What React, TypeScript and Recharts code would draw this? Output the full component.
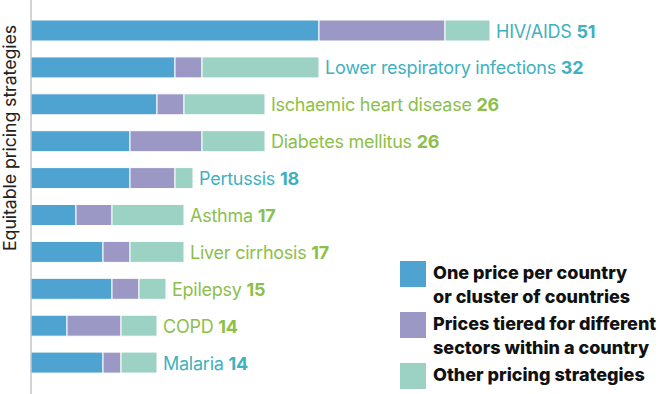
import { BarChart, Bar, XAxis, YAxis, LabelList, Label } from 'recharts';

const diseases = [
  'HIV/AIDS',
  'Lower respiratory infections',
  'Ischaemic heart disease',
  'Diabetes mellitus',
  'Pertussis',
  'Asthma',
  'Liver cirrhosis',
  'Epilepsy',
  'COPD',
  'Malaria',
];
const onePrice = [32, 16, 14, 11, 11, 5, 8, 9, 4, 8];
const tiered = [14, 3, 3, 8, 5, 4, 3, 3, 6, 2];
const other = [5, 13, 9, 7, 2, 8, 6, 3, 4, 4];
const totals = [51, 32, 26, 26, 18, 17, 17, 15, 14, 14];
const labelTone = ['teal', 'teal', 'green', 'green', 'teal', 'green', 'green', 'green', 'green', 'teal'];

const legendLines = [
  ['One price per country', 'or cluster of countries'],
  ['Prices tiered for different', 'sectors within a country'],
  ['Other pricing strategies'],
];

const COLORS = {
  onePrice: '#4fa3d0',
  tiered: '#9b98c6',
  other: '#9bd2c3',
  teal: '#3fb1bf',
  green: '#8cc04b',
  axis: '#a8a8a8',
};

const data = diseases.map((name, i) => ({
  name,
  onePrice: onePrice[i],
  tiered: tiered[i],
  other: other[i],
}));

const FONT = 'Inter, "Noto Sans", sans-serif';

function BarLabel(props: any) {
  const { x, y, width, height, value } = props;
  const i = diseases.indexOf(value);
  const color = labelTone[i] === 'teal' ? COLORS.teal : COLORS.green;
  return (
    <text
      x={Number(x) + Number(width) + 6}
      y={Number(y) + Number(height) / 2}
      dominantBaseline="central"
      fontFamily={FONT}
      fontSize={18}
      letterSpacing={-0.25}
      fill={color}
    >
      <tspan>{value} </tspan>
      <tspan fontWeight={700}>{totals[i]}</tspan>
    </text>
  );
}

// rotated title on the left, next to the axis line
function AxisTitle() {
  return (
    <text
      x={16}
      y={138}
      transform="rotate(-90, 16, 138)"
      textAnchor="middle"
      fontFamily={FONT}
      fontSize={17.8}
      letterSpacing={-0.1}
      fill="#222"
    >
      Equitable pricing strategies
    </text>
  );
}

function LegendBox() {
  const swatches = [COLORS.onePrice, COLORS.tiered, COLORS.other];
  return (
    <div style={{ position: 'absolute', left: 400, top: 261, fontFamily: FONT }}>
      {legendLines.map((lines, i) => (
        <div key={i} style={{ display: 'flex', alignItems: 'flex-start', height: 51 }}>
          <div style={{ width: 26, height: 26, background: swatches[i], marginRight: 7, flex: 'none' }} />
          <div
            style={{
              fontSize: 18,
              fontWeight: 800,
              lineHeight: '24px',
              color: '#111',
              whiteSpace: 'nowrap',
            }}
          >
            {lines.map((l) => (
              <div key={l}>{l}</div>
            ))}
          </div>
        </div>
      ))}
    </div>
  );
}

export default function App() {
  return (
    <div style={{ position: 'absolute', left: 0, top: 0, width: 660, height: 394, background: '#fff' }}>
      <BarChart
        width={660}
        height={394}
        data={data}
        layout="vertical"
        margin={{ top: 0, right: 17, left: 0, bottom: 0 }}
        barSize={21}
      >
        <XAxis type="number" domain={[0, 68]} hide />
        <YAxis
          type="category"
          dataKey="name"
          width={31}
          tick={false}
          tickLine={false}
          axisLine={{ stroke: COLORS.axis, strokeWidth: 1 }}
          padding={{ top: 12, bottom: 13 }}
        >
          <Label content={<AxisTitle />} />
        </YAxis>
        <Bar dataKey="onePrice" stackId="s" fill={COLORS.onePrice} stroke="#fff" strokeWidth={1} isAnimationActive={false} />
        <Bar dataKey="tiered" stackId="s" fill={COLORS.tiered} stroke="#fff" strokeWidth={1} isAnimationActive={false} />
        <Bar dataKey="other" stackId="s" fill={COLORS.other} stroke="#fff" strokeWidth={1} isAnimationActive={false}>
          <LabelList dataKey="name" content={<BarLabel />} />
        </Bar>
      </BarChart>
      <LegendBox />
    </div>
  );
}
